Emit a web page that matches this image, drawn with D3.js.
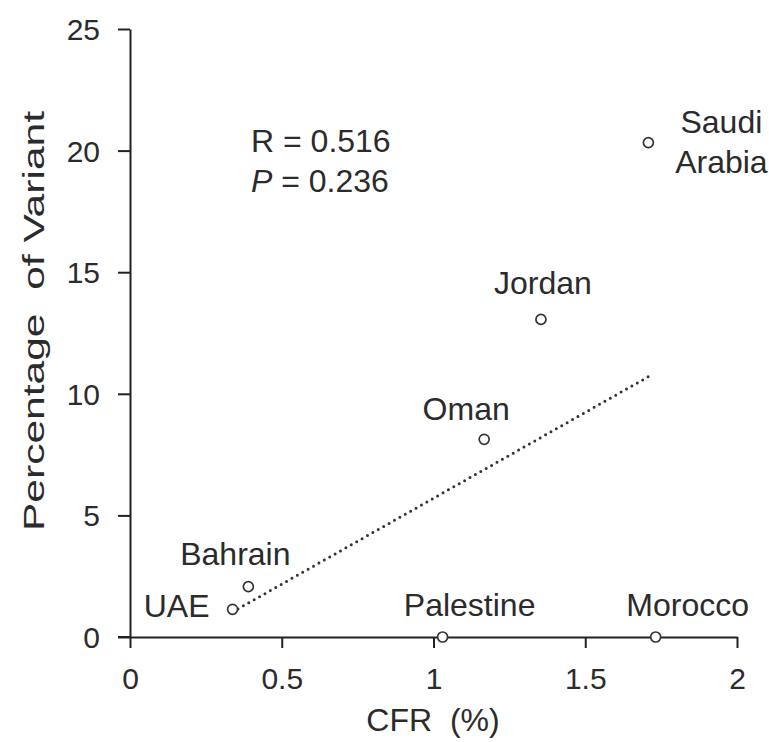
<!DOCTYPE html>
<html>
<head>
<meta charset="utf-8">
<script src="https://cdn.jsdelivr.net/npm/d3@7"></script>
<style>
  body { margin: 0; background: #fff; }
  svg text { font-family: "Liberation Sans", Arial, sans-serif; fill: #2b2b2b; white-space: pre; }
</style>
</head>
<body>
<svg id="chart" width="769" height="742"></svg>
<script>
// data
const countries = ["UAE", "Bahrain", "Palestine", "Morocco", "Oman", "Jordan", "Saudi Arabia"];
const cfr = [0.338, 0.390, 1.030, 1.732, 1.167, 1.354, 1.708];
const variantPct = [1.14, 2.07, 0, 0, 8.13, 13.06, 20.33];
const trendX = [0.338, 1.713];
const trendY = [1.03, 10.74];
const xTicks = [0, 0.5, 1, 1.5, 2];
const yTicks = [0, 5, 10, 15, 20, 25];

// label offsets relative to the point (px), kept apart from data
const labelPos = {
  "UAE": { dx: -56, dy: 8, lines: ["UAE"] },
  "Bahrain": { dx: -13, dy: -22, lines: ["Bahrain"] },
  "Palestine": { dx: 27, dy: -21, lines: ["Palestine"] },
  "Morocco": { dx: 32, dy: -21, lines: ["Morocco"] },
  "Oman": { dx: -18, dy: -19, lines: ["Oman"] },
  "Jordan": { dx: 2, dy: -25, lines: ["Jordan"] },
  "Saudi Arabia": { dx: 73, dy: -10, lines: ["Saudi", "Arabia"] }
};

const svg = d3.select("#chart");
const x = d3.scaleLinear().domain([0, 2]).range([130, 737]);
const y = d3.scaleLinear().domain([0, 25]).range([637, 29]);

const axisColor = "#222";
const fontFam = '"Liberation Sans", Arial, sans-serif';

// x axis
const gx = svg.append("g").attr("transform", "translate(0,637)")
  .call(d3.axisBottom(x).tickValues(xTicks).tickSize(11).tickSizeOuter(0)
    .tickFormat(d => d3.format("")(d)));
gx.select(".domain").attr("stroke", axisColor).attr("stroke-width", 2);
gx.selectAll(".tick line").attr("stroke", axisColor).attr("stroke-width", 2);
gx.selectAll(".tick text").attr("font-size", 30).attr("dy", 0).attr("y", 52)
  .attr("fill", "#2b2b2b").style("font-family", fontFam);

// y axis
const gy = svg.append("g").attr("transform", "translate(130,0)")
  .call(d3.axisLeft(y).tickValues(yTicks).tickSize(12).tickSizeOuter(0));
gy.select(".domain").attr("stroke", axisColor).attr("stroke-width", 2);
gy.selectAll(".tick line").attr("stroke", axisColor).attr("stroke-width", 2);
gy.selectAll(".tick text").attr("font-size", 30).attr("x", -30).attr("dy", "0.35em")
  .attr("fill", "#2b2b2b").style("font-family", fontFam);

// extend x-axis line left to y-axis tick
svg.append("line").attr("x1", 118).attr("x2", 131).attr("y1", 637).attr("y2", 637)
  .attr("stroke", axisColor).attr("stroke-width", 2);

// axis titles
svg.append("text").attr("x", 433).attr("y", 731).attr("text-anchor", "middle")
  .attr("font-size", 32).text("CFR  (%)");
svg.append("text")
  .attr("transform", "translate(44,321) rotate(-90)")
  .attr("text-anchor", "middle").attr("font-size", 30)
  .attr("textLength", 420).attr("lengthAdjust", "spacingAndGlyphs")
  .text("Percentage  of Variant");

// trend line (dotted)
const trend = trendX.map((v, i) => [v, trendY[i]]);
svg.append("path")
  .attr("d", d3.line().x(d => x(d[0])).y(d => y(d[1]))(trend))
  .attr("fill", "none").attr("stroke", "#333").attr("stroke-width", 3)
  .attr("stroke-linecap", "round").attr("stroke-dasharray", "0,6.2");

// points
svg.selectAll("circle.pt").data(countries).join("circle")
  .attr("class", "pt")
  .attr("cx", (d, i) => x(cfr[i])).attr("cy", (d, i) => y(variantPct[i]))
  .attr("r", 5).attr("fill", "#fff").attr("stroke", "#333").attr("stroke-width", 1.7);

// point labels
countries.forEach((c, i) => {
  const p = labelPos[c];
  const t = svg.append("text")
    .attr("x", x(cfr[i]) + p.dx).attr("y", y(variantPct[i]) + p.dy)
    .attr("text-anchor", "middle").attr("font-size", 32);
  p.lines.forEach((ln, k) => {
    t.append("tspan").attr("x", x(cfr[i]) + p.dx).attr("dy", k === 0 ? 0 : 40).text(ln);
  });
});

// statistics
svg.append("text").attr("x", 251).attr("y", 152).attr("font-size", 32).text("R = 0.516");
const pt = svg.append("text").attr("x", 251).attr("y", 192).attr("font-size", 32);
pt.append("tspan").attr("font-style", "italic").text("P");
pt.append("tspan").text(" = 0.236");
</script>
</body>
</html>
